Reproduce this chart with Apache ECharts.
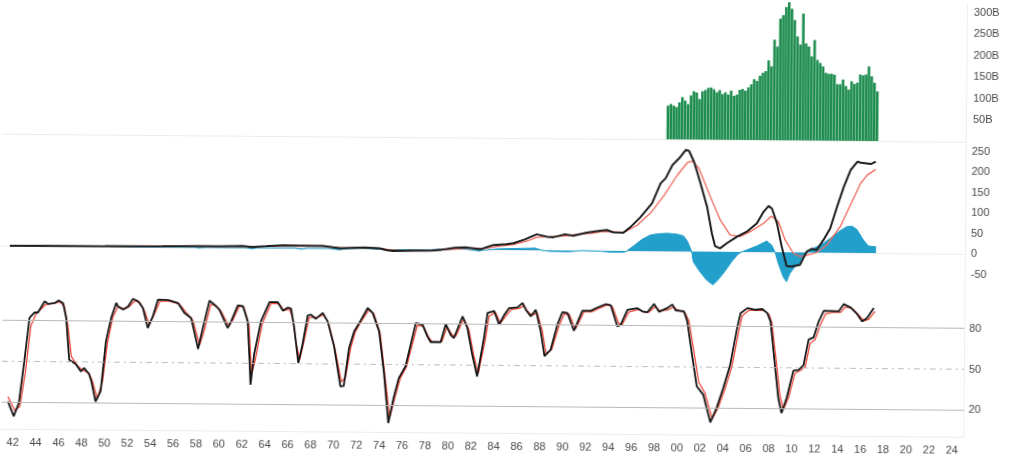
<!DOCTYPE html>
<html><head><meta charset="utf-8">
<script src="https://cdn.jsdelivr.net/npm/echarts@6/dist/echarts.min.js"></script>
<style>html,body{margin:0;padding:0;background:#fff;overflow:hidden}
#c{width:1026px;height:473px;transform:rotate(0.48deg);transform-origin:513px 236.5px;background:#fff}</style>
</head><body><div id="c"></div><script>
// ---- DATA ----
const xLabelFirst = 1942, xLabelLast = 2024, xLabelStep = 2;
const volTicks = [50, 100, 150, 200, 250, 300];
const macdTicks = [-50, 0, 50, 100, 150, 200, 250];
const stochTicks = [20, 50, 80];
const stochLevels = [80, 50, 20];

// quarterly volume (billions), first quarter starting 1999
const volStart = 1999.0;
const volume = [78,82,78,75,86,98,90,82,102,112,109,94,112,115,120,121,117,110,115,106,110,105,114,102,105,116,118,114,122,129,141,137,149,156,160,185,171,233,217,282,290,309,325,305,279,241,222,294,225,218,195,233,187,180,172,157,155,155,153,131,131,142,127,119,138,132,135,154,152,154,173,150,135,115];

const macdLine = [[1941.7,0],[1945,0.5],[1950,1],[1952,1.5],[1955,2],[1958,3],[1960,3],[1962,4.5],[1962.8,2],[1964,4],[1965.5,7],[1967,6],[1969,6],[1970.5,0.5],[1971.5,2],[1972.6,3],[1973.98,1.4],[1974.6,-3],[1975.14,-5],[1976.89,-3.6],[1978.5,-3],[1979.22,-1.5],[1980.5,4],[1981.4,5.6],[1982.71,1],[1983.86,11.8],[1985.0,14],[1985.61,16.3],[1986.6,26],[1987.65,38.7],[1988.52,33.2],[1989.1,32],[1990.12,39.3],[1990.84,36],[1992.01,43.7],[1993.17,48.9],[1993.76,50.7],[1994.33,45.1],[1995.2,44.5],[1995.79,57.7],[1996.66,82],[1997.68,116.6],[1998.41,165.6],[1998.84,177.8],[1999.43,210.5],[2000.0,226.8],[2000.59,248],[2000.87,245],[2001.31,219],[2001.89,166.3],[2002.48,109.5],[2002.92,44.6],[2003.2,13.9],[2003.64,8.3],[2004.22,20.7],[2005.1,37],[2005.97,49.5],[2006.84,70],[2007.42,98.5],[2007.85,112.4],[2008.15,106],[2008.59,70.5],[2009.02,13.4],[2009.46,-33.4],[2009.9,-35],[2010.62,-30.7],[2011.2,2],[2011.64,9],[2012.07,6],[2012.65,30.7],[2013.24,59.3],[2013.82,112.2],[2014.4,161.2],[2014.98,202],[2015.56,222.4],[2015.85,220],[2016.73,217],[2017.16,222.7]];

const macdSignal = [[1941.7,0],[1946,0.5],[1951,1],[1955,2],[1959,3],[1962.5,3.5],[1964.5,4],[1966.5,6.5],[1968.5,6],[1970.8,1.5],[1972,2],[1973.5,2],[1974.8,-1.5],[1976,-4],[1978.5,-3],[1979.8,0],[1981.8,4],[1983,3],[1984.3,9],[1985.6,13],[1986.8,22],[1987.65,31.5],[1988.8,33],[1990.3,36],[1991.4,40.5],[1992.5,42.5],[1993.4,47],[1994.3,46.6],[1995.2,45],[1995.55,49.5],[1996.42,63.5],[1997.58,93.7],[1998.74,137],[1999.86,186],[2000.73,216.5],[2001.16,220.7],[2001.74,203],[2002.76,134],[2003.64,77.5],[2004.51,41],[2005.38,37.3],[2006.26,49.5],[2007.42,70],[2008.1,88],[2008.72,74.6],[2009.31,30],[2010.04,-2.4],[2010.62,-10],[2011.35,-6],[2012.07,0],[2012.95,18.5],[2014.11,63.6],[2014.98,116.6],[2015.85,169.5],[2016.43,190],[2017.16,204]];

const macdHist = [[1941.7,0],[1957.8,0],[1958.2,-2],[1958.7,0],[1962.3,0],[1962.8,-2.5],[1963.3,0],[1966.6,0],[1967.1,-2.5],[1967.6,0],[1969.6,0],[1970.4,-3],[1971.2,0],[1972.6,1],[1974.0,-1],[1975.0,-4],[1976.2,-1.5],[1978.4,-1],[1979.6,1],[1981.4,1.5],[1982.6,-3],[1983.3,0],[1984.2,2.5],[1986.2,4],[1987.5,5],[1988.1,0],[1988.8,-2.5],[1990.5,-3],[1991.5,0],[1993.17,-1],[1994.0,-3],[1995.3,-3],[1995.5,0],[1996.08,12],[1996.8,28],[1997.53,39],[1998.1,42],[1998.99,44],[1999.86,42],[2000.44,38],[2000.79,25],[2001.17,0],[2001.31,-25],[2001.89,-49],[2002.48,-69],[2003.05,-81],[2003.5,-68],[2004.07,-48],[2004.66,-24],[2005.23,-5],[2005.53,0],[2005.97,5],[2006.84,14.6],[2007.71,27],[2008.15,17],[2008.44,0],[2008.73,-27],[2009.16,-59.5],[2009.46,-71.7],[2009.74,-52],[2010.18,-35],[2010.62,-27],[2011.05,-5],[2011.34,0],[2011.78,10],[2012.65,22.7],[2013.52,40.7],[2014.1,53.9],[2014.69,63.7],[2015.13,65],[2015.56,57.3],[2016.14,31.5],[2016.57,17],[2017.25,15]];

const stochK = [[1941.55,20.6],[1942.07,9.7],[1942.51,19.5],[1942.95,50],[1943.38,82],[1943.82,86],[1944.11,86],[1944.69,94.3],[1944.99,92.3],[1945.56,93],[1945.91,95],[1946.3,93],[1946.58,82],[1946.87,51.5],[1947.45,48.4],[1947.89,43],[1948.18,45.5],[1948.62,41],[1948.82,35.8],[1949.2,21],[1949.64,28.6],[1950.07,65.3],[1950.51,82.5],[1950.94,93.5],[1951.09,91],[1951.53,88.7],[1951.97,91],[1952.4,96.6],[1952.84,95],[1953.27,90],[1953.71,75.3],[1954.15,84],[1954.58,96.2],[1955.45,96],[1956.33,93.8],[1956.9,86.5],[1957.49,82.9],[1958.12,60.2],[1958.5,75],[1959.08,95.7],[1959.52,92.8],[1959.95,89.2],[1960.69,75.8],[1960.98,80.6],[1961.56,92.5],[1962.0,92],[1962.43,80.8],[1962.6,55],[1962.72,34.3],[1963.01,56.4],[1963.59,80.9],[1964.32,95.1],[1965.05,95],[1965.49,88.8],[1965.92,91.2],[1966.21,90.4],[1966.5,76.2],[1966.88,50.5],[1967.23,64],[1967.67,85.6],[1967.95,86],[1968.39,83.1],[1968.97,87.4],[1969.41,81.3],[1969.99,63],[1970.57,33.6],[1970.86,34],[1971.3,61.8],[1971.73,74.1],[1972.17,80.2],[1972.9,91.3],[1973.34,87.7],[1973.91,74.3],[1974.35,45],[1974.78,7],[1975.22,25.4],[1975.66,40],[1976.24,48.7],[1976.68,64.7],[1977.11,80.6],[1977.7,79.4],[1978.13,70.9],[1978.42,66.7],[1979.29,66.7],[1979.73,80],[1980.17,72],[1980.45,69.8],[1981.19,85.8],[1981.62,77.2],[1982.06,57.7],[1982.5,41.8],[1983.07,70],[1983.37,88.4],[1983.94,90],[1984.38,79.9],[1984.82,87],[1985.25,92.2],[1985.98,92.7],[1986.42,96],[1986.71,91],[1987.14,86.2],[1987.58,91],[1988.02,75.3],[1988.37,57],[1988.89,61.6],[1989.47,80.2],[1989.91,89.6],[1990.35,88.8],[1990.92,75.9],[1991.27,83],[1991.65,90.7],[1992.38,90.7],[1992.82,92.6],[1993.69,95.7],[1994.12,94.8],[1994.71,79.4],[1995.0,80.5],[1995.58,91.6],[1996.45,92.8],[1996.89,90.5],[1997.33,90],[1997.9,96],[1998.34,90.3],[1999.07,93.2],[1999.5,95.8],[1999.79,91.5],[2000.52,90.8],[2000.81,83.5],[2001.25,59],[2001.68,35.9],[2002.26,29.7],[2002.9,9.5],[2003.43,20],[2004.0,34.8],[2004.59,51.9],[2005.17,78.9],[2005.46,89.9],[2006.05,93.6],[2006.77,92.4],[2007.35,93],[2007.79,90.1],[2008.08,84],[2008.52,49.8],[2008.81,27.8],[2009.1,16.7],[2009.54,27.8],[2010.11,47.9],[2010.55,48.5],[2010.99,51.9],[2011.42,70.8],[2011.86,72.5],[2012.29,84.3],[2012.73,92.1],[2013.46,92],[2014.04,91.8],[2014.47,97.1],[2015.06,94.7],[2015.64,89.9],[2016.08,84.5],[2016.51,87],[2017.09,94.4]];

const stochD = [[1941.55,24],[1942.15,14],[1942.6,17],[1943.05,42],[1943.5,76],[1943.95,85],[1944.8,92],[1945.6,93],[1946.0,94],[1946.4,91],[1946.75,76],[1947.05,54],[1947.6,47],[1948.05,44],[1948.6,42],[1948.95,35],[1949.35,23],[1949.8,36],[1950.2,64],[1950.65,83],[1951.1,91],[1951.65,89],[1952.1,91],[1952.55,95],[1953.0,94],[1953.4,88],[1953.85,78],[1954.3,86],[1954.75,95],[1955.6,95],[1956.45,93],[1957.05,87],[1957.65,81],[1958.25,63],[1958.65,74],[1959.2,93],[1959.65,92],[1960.1,88],[1960.8,77],[1961.15,82],[1961.7,92],[1962.1,91],[1962.55,78],[1962.8,42],[1963.1,52],[1963.7,79],[1964.45,94],[1965.15,94],[1965.6,89],[1966.05,90],[1966.35,84],[1966.65,66],[1967.0,53],[1967.35,66],[1967.8,84],[1968.45,84],[1969.05,86],[1969.5,80],[1970.1,60],[1970.65,37],[1971.0,40],[1971.45,62],[1971.85,74],[1972.3,81],[1973.0,90],[1973.45,87],[1974.0,73],[1974.45,42],[1974.9,11],[1975.35,26],[1975.8,40],[1976.35,49],[1976.8,64],[1977.25,79],[1977.8,78],[1978.25,70],[1978.55,67],[1979.4,67],[1979.85,78],[1980.3,72],[1980.6,71],[1981.3,84],[1981.75,76],[1982.2,57],[1982.6,44],[1983.2,69],[1983.5,86],[1984.05,89],[1984.5,81],[1984.95,86],[1985.4,91],[1986.1,92],[1986.55,94],[1986.85,90],[1987.25,87],[1987.7,89],[1988.15,76],[1988.5,59],[1989.0,62],[1989.6,79],[1990.05,88],[1990.5,88],[1991.05,77],[1991.4,83],[1991.8,90],[1992.5,90],[1992.95,92],[1993.8,95],[1994.25,94],[1994.85,81],[1995.15,81],[1995.7,90],[1996.55,92],[1997.0,90],[1997.45,90],[1998.0,94],[1998.45,91],[1999.2,92],[1999.6,94],[1999.9,92],[2000.6,90],[2000.95,84],[2001.4,62],[2001.85,39],[2002.4,31],[2003.05,12],[2003.55,20],[2004.15,34],[2004.75,51],[2005.3,76],[2005.6,88],[2006.2,92],[2006.9,92],[2007.5,92],[2007.95,89],[2008.2,83],[2008.65,52],[2008.95,30],[2009.25,19],[2009.7,28],[2010.25,46],[2010.7,48],[2011.15,51],[2011.55,68],[2012.0,71],[2012.45,82],[2012.9,90],[2013.6,91],[2014.2,91],[2014.6,95],[2015.2,94],[2015.8,89],[2016.25,85],[2016.65,86],[2017.2,92]];

// ---- CHART ----
const font = {fontFamily: '"Liberation Sans", Arial, sans-serif', fontSize: 11, color: '#4a4a4a'};
const chart = echarts.init(document.getElementById('c'), null, {renderer: 'canvas'});
const G = {left: 2, width: 963};
const grids = [
  {...G, top: -2, height: 140},
  {...G, top: 137.25, height: 153.75},
  {...G, top: 290.6, height: 143}
];
const yearFmt = v => (v >= xLabelFirst && v <= xLabelLast && (v - xLabelFirst) % xLabelStep === 0) ? String(v).slice(2) : '';
const xAxes = [0, 1, 2].map(i => ({
  type: 'value', gridIndex: i, min: 1941, max: 2025, interval: 1,
  axisLine: {show: true, lineStyle: {color: '#ececec', width: 1}},
  axisTick: {show: false}, splitLine: {show: false},
  axisLabel: i === 2 ? {...font, margin: 8, formatter: yearFmt} : {show: false}
}));
const yBase = {
  type: 'value', position: 'right',
  axisLine: {show: true, lineStyle: {color: '#eeeeee'}},
  axisTick: {show: false}, splitLine: {show: false}
};
const yAxes = [
  {...yBase, gridIndex: 0, min: 0, max: 320, interval: 50,
   axisLabel: {...font, margin: 7, formatter: v => volTicks.includes(v) ? v + 'B' : ''}},
  {...yBase, gridIndex: 1, min: -100, max: 275, interval: 50,
   axisLabel: {...font, margin: 6, formatter: v => macdTicks.includes(v) ? String(v) : ''}},
  {...yBase, gridIndex: 2, min: 0, max: 105, interval: 10,
   axisLabel: {...font, margin: 5, formatter: v => stochTicks.includes(v) ? String(v) : ''}}
];
const lvlStyle = v => v === 50
  ? {color: '#bdbdbd', width: 1, type: [6, 4, 2, 4]}
  : {color: '#b8b8b8', width: 1, type: 'solid'};

chart.setOption({
  animation: false,
  backgroundColor: '#ffffff',
  grid: grids, xAxis: xAxes, yAxis: yAxes,
  series: [
    {type: 'bar', xAxisIndex: 0, yAxisIndex: 0, barWidth: 2.6,
     data: volume.map((v, i) => [volStart + i * 0.25, v]),
     itemStyle: {color: '#1f8d4f'}},
    {type: 'line', xAxisIndex: 1, yAxisIndex: 1, data: macdHist, symbol: 'none', z: 1,
     lineStyle: {color: '#229fca', width: 1}, areaStyle: {color: '#229fca', opacity: 1}},
    {type: 'line', xAxisIndex: 1, yAxisIndex: 1, data: macdSignal, symbol: 'none', z: 2,
     lineStyle: {color: '#f0685a', width: 1.3}},
    {type: 'line', xAxisIndex: 1, yAxisIndex: 1, data: macdLine, symbol: 'none', z: 3,
     lineStyle: {color: '#1c1c1c', width: 2}},
    {type: 'line', xAxisIndex: 2, yAxisIndex: 2, data: stochD, symbol: 'none', z: 2,
     lineStyle: {color: '#ee4a3c', width: 1.3},
     markLine: {silent: true, symbol: 'none', label: {show: false},
       data: stochLevels.map(v => ({yAxis: v, lineStyle: lvlStyle(v)}))}},
    {type: 'line', xAxisIndex: 2, yAxisIndex: 2, data: stochK, symbol: 'none', z: 3,
     lineStyle: {color: '#151515', width: 1.8}}
  ]
});
</script></body></html>
